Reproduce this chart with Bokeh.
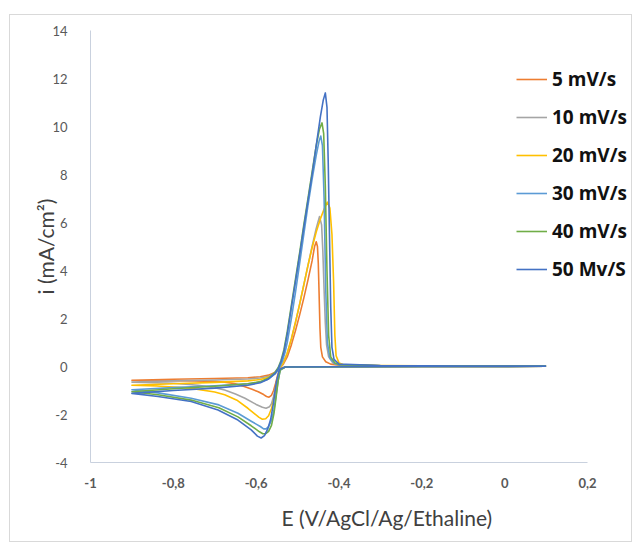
from bokeh.plotting import figure
from bokeh.models import Range1d, FixedTicker, Legend, LegendItem, Title, CustomJSTickFormatter
from bokeh.embed import file_html
from bokeh.resources import INLINE

# ---------------- data ----------------
SERIES_NAMES = ["5 mV/s", "10 mV/s", "20 mV/s", "30 mV/s", "40 mV/s", "50 Mv/S"]
SERIES_COLORS = ["#ED7D31", "#A5A5A5", "#FFC000", "#5B9BD5", "#70AD47", "#4472C4"]

# 5 mV/s
E5_fwd = [0.1, -0.2, -0.4, -0.53, -0.542, -0.548, -0.553, -0.558, -0.563, -0.569, -0.575, -0.582,
          -0.595, -0.61, -0.627, -0.65, -0.676, -0.7, -0.75, -0.8, -0.85, -0.9]
I5_fwd = [0.01, 0.0, -0.01, -0.02, -0.1, -0.35, -0.7, -1.0, -1.2, -1.28, -1.25, -1.17,
          -1.05, -0.95, -0.84, -0.72, -0.65, -0.62, -0.6, -0.59, -0.58, -0.57]
E5_rev = [-0.9, -0.85, -0.8, -0.7, -0.62, -0.59, -0.57, -0.555, -0.545, -0.535, -0.525, -0.515,
          -0.505, -0.495, -0.485, -0.475, -0.465, -0.459, -0.455, -0.452, -0.45, -0.448, -0.446,
          -0.444, -0.44, -0.432, -0.42, -0.4, -0.3, -0.1, 0.1]
I5_rev = [-0.57, -0.55, -0.53, -0.5, -0.47, -0.43, -0.36, -0.25, -0.12, 0.08, 0.4, 0.9,
          1.5, 2.15, 2.85, 3.6, 4.4, 5.0, 5.2, 5.0, 4.3, 3.0, 1.6,
          0.8, 0.4, 0.2, 0.1, 0.05, 0.03, 0.02, 0.02]

# 10 mV/s
E10_fwd = [0.1, -0.2, -0.4, -0.53, -0.542, -0.548, -0.553, -0.558, -0.563, -0.568, -0.576, -0.585,
           -0.6, -0.627, -0.65, -0.676, -0.7, -0.74, -0.8, -0.85, -0.9]
I10_fwd = [0.01, 0.0, -0.01, -0.02, -0.1, -0.45, -0.85, -1.25, -1.55, -1.68, -1.74, -1.7,
           -1.58, -1.32, -1.15, -0.98, -0.88, -0.78, -0.7, -0.67, -0.65]
E10_rev = [-0.9, -0.8, -0.7, -0.62, -0.59, -0.57, -0.555, -0.545, -0.535, -0.525, -0.515, -0.505,
           -0.495, -0.485, -0.475, -0.465, -0.455, -0.447, -0.442, -0.439, -0.436, -0.433, -0.43,
           -0.425, -0.415, -0.4, -0.3, -0.1, 0.1]
I10_rev = [-0.65, -0.6, -0.56, -0.52, -0.48, -0.41, -0.28, -0.12, 0.12, 0.55, 1.15, 1.85,
           2.6, 3.4, 4.2, 5.0, 5.75, 6.25, 5.9, 4.8, 3.2, 1.8, 0.9,
           0.4, 0.15, 0.07, 0.03, 0.02, 0.02]

# 20 mV/s
E20_fwd = [0.1, -0.2, -0.4, -0.53, -0.542, -0.547, -0.552, -0.557, -0.563, -0.57, -0.577, -0.585,
           -0.593, -0.605, -0.62, -0.645, -0.676, -0.7, -0.76, -0.84, -0.9]
I20_fwd = [0.01, 0.0, -0.01, -0.02, -0.12, -0.45, -0.9, -1.35, -1.75, -2.05, -2.18, -2.2,
           -2.12, -1.95, -1.74, -1.42, -1.18, -1.06, -0.9, -0.81, -0.78]
E20_rev = [-0.9, -0.8, -0.7, -0.62, -0.59, -0.57, -0.555, -0.545, -0.535, -0.525, -0.515, -0.505,
           -0.495, -0.485, -0.475, -0.465, -0.455, -0.445, -0.435, -0.428, -0.422, -0.417, -0.413,
           -0.41, -0.407, -0.4, -0.39, -0.3, -0.1, 0.1]
I20_rev = [-0.78, -0.72, -0.66, -0.6, -0.54, -0.45, -0.3, -0.12, 0.13, 0.55, 1.15, 1.85,
           2.6, 3.4, 4.2, 4.95, 5.6, 6.15, 6.6, 6.85, 6.6, 5.5, 3.5,
           1.3, 0.45, 0.15, 0.08, 0.04, 0.02, 0.02]

# 30 mV/s
E30_fwd = [0.1, -0.2, -0.4, -0.53, -0.542, -0.547, -0.552, -0.557, -0.563, -0.57, -0.576, -0.582,
           -0.59, -0.6, -0.612, -0.644, -0.69, -0.757, -0.837, -0.9]
I30_fwd = [0.01, 0.0, -0.01, -0.02, -0.15, -0.6, -1.2, -1.8, -2.25, -2.5, -2.6, -2.6,
           -2.5, -2.4, -2.28, -1.95, -1.6, -1.32, -1.1, -0.97]
E30_rev = [-0.9, -0.8, -0.7, -0.62, -0.59, -0.57, -0.555, -0.545, -0.537, -0.53, -0.525, -0.515,
           -0.505, -0.495, -0.485, -0.475, -0.465, -0.455, -0.448, -0.444, -0.44, -0.436, -0.432,
           -0.428, -0.422, -0.41, -0.4, -0.3, -0.1, 0.1]
I30_rev = [-0.97, -0.88, -0.8, -0.72, -0.65, -0.52, -0.32, -0.1, 0.2, 0.6, 1.0, 2.0,
           3.1, 4.3, 5.5, 6.7, 7.8, 8.8, 9.4, 9.6, 9.2, 7.0, 3.2,
           1.0, 0.35, 0.12, 0.07, 0.03, 0.02, 0.02]

# 40 mV/s
E40_fwd = [0.1, -0.2, -0.4, -0.53, -0.542, -0.547, -0.552, -0.557, -0.563, -0.57, -0.577, -0.584,
           -0.592, -0.6, -0.612, -0.644, -0.69, -0.757, -0.837, -0.9]
I40_fwd = [0.01, 0.0, -0.01, -0.02, -0.15, -0.6, -1.3, -1.95, -2.45, -2.7, -2.8, -2.8,
           -2.72, -2.62, -2.47, -2.1, -1.72, -1.4, -1.18, -1.05]
E40_rev = [-0.9, -0.8, -0.7, -0.62, -0.59, -0.57, -0.555, -0.547, -0.54, -0.533, -0.525, -0.515,
           -0.505, -0.495, -0.485, -0.475, -0.465, -0.455, -0.447, -0.441, -0.437, -0.433, -0.429,
           -0.425, -0.42, -0.41, -0.4, -0.3, -0.1, 0.1]
I40_rev = [-1.05, -0.93, -0.82, -0.72, -0.63, -0.48, -0.25, -0.05, 0.25, 0.7, 1.45, 2.55,
           3.65, 4.75, 5.9, 7.0, 8.1, 9.2, 9.9, 10.15, 9.7, 7.5, 4.0,
           1.3, 0.4, 0.15, 0.08, 0.03, 0.02, 0.02]

# 50 mV/s
E50_fwd = [0.1, -0.2, -0.4, -0.53, -0.542, -0.545, -0.551, -0.555, -0.559, -0.565, -0.572, -0.58,
           -0.588, -0.597, -0.612, -0.644, -0.692, -0.757, -0.837, -0.9]
I50_fwd = [0.01, 0.0, -0.01, -0.02, -0.1, -0.2, -0.63, -1.1, -1.6, -2.2, -2.6, -2.88,
           -2.98, -2.9, -2.64, -2.23, -1.81, -1.46, -1.25, -1.12]
E50_rev = [-0.9, -0.8, -0.7, -0.62, -0.59, -0.57, -0.555, -0.547, -0.54, -0.533, -0.525, -0.515,
           -0.505, -0.495, -0.485, -0.475, -0.465, -0.455, -0.445, -0.438, -0.433, -0.429, -0.426,
           -0.423, -0.42, -0.417, -0.412, -0.4, -0.3, -0.1, 0.1]
I50_rev = [-1.12, -1.0, -0.9, -0.78, -0.68, -0.52, -0.3, -0.1, 0.2, 0.6, 1.35, 2.45,
           3.55, 4.65, 5.8, 6.9, 8.0, 9.2, 10.4, 11.1, 11.4, 10.8, 8.5,
           5.5, 2.5, 0.8, 0.3, 0.1, 0.04, 0.02, 0.02]

X_TICKS = [-1.0, -0.8, -0.6, -0.4, -0.2, 0.0, 0.2]
X_LABELS = ["-1", "-0,8", "-0,6", "-0,4", "-0,2", "0", "0,2"]
Y_TICKS = [-4, -2, 0, 2, 4, 6, 8, 10, 12, 14]
Y_LABELS = ["-4", "-2", "0", "2", "4", "6", "8", "10", "12", "14"]
X_AXIS_MIN, X_AXIS_MAX = -1.0, 0.2
Y_AXIS_MIN, Y_AXIS_MAX = -4, 14

SERIES_E = [E5_fwd + E5_rev, E10_fwd + E10_rev, E20_fwd + E20_rev,
            E30_fwd + E30_rev, E40_fwd + E40_rev, E50_fwd + E50_rev]
SERIES_I = [I5_fwd + I5_rev, I10_fwd + I10_rev, I20_fwd + I20_rev,
            I30_fwd + I30_rev, I40_fwd + I40_rev, I50_fwd + I50_rev]

# ---------------- layout ----------------
FONT = "Lato"
TICK_COLOR = "#595959"
AXIS_LINE = "#C9D1DE"

AXIS_PX = 497          # pixels spanned by the x axis (-1 .. 0.2)
FRAME_W = 539          # frame extends further right so the legend is not clipped
FRAME_H = 432
x_end = X_AXIS_MIN + (X_AXIS_MAX - X_AXIS_MIN) * FRAME_W / AXIS_PX

p = figure(frame_width=FRAME_W, frame_height=FRAME_H,
           x_range=Range1d(X_AXIS_MIN, x_end), y_range=Range1d(Y_AXIS_MIN, Y_AXIS_MAX),
           output_backend="svg", toolbar_location=None,
           min_border_left=80, min_border_top=15, min_border_right=2, min_border_bottom=69)
p.margin = (14, 0, 0, 9)
p.styles = {"border": "1px solid #D9D9D9"}
p.background_fill_color = "white"
p.border_fill_color = "white"
p.outline_line_color = None
p.xgrid.visible = False
p.ygrid.visible = False

def make_formatter(tvals, tlabels):
    return CustomJSTickFormatter(args=dict(tick_vals=tvals, tick_labels=tlabels), code="""
        for (let k = 0; k < tick_vals.length; k++) {
            if (Math.abs(tick_vals[k] - tick) < 1e-9) return tick_labels[k];
        }
        return '';
    """)

for ax in (p.xaxis[0], p.yaxis[0]):
    ax.axis_line_color = AXIS_LINE
    ax.axis_line_width = 1
    ax.major_tick_line_color = None
    ax.minor_tick_line_color = None
    ax.major_tick_out = 0
    ax.major_tick_in = 0
    ax.minor_tick_out = 0
    ax.minor_tick_in = 0
    ax.major_label_text_font = FONT
    ax.major_label_text_color = TICK_COLOR
    ax.major_label_text_font_size = "13px"

p.xaxis.bounds = (X_AXIS_MIN, X_AXIS_MAX)
p.xaxis.ticker = FixedTicker(ticks=X_TICKS)
p.xaxis.formatter = make_formatter(X_TICKS, X_LABELS)
p.xaxis.major_label_text_font_style = "bold"
p.xaxis.major_label_standoff = 15

p.yaxis.ticker = FixedTicker(ticks=Y_TICKS)
p.yaxis.formatter = make_formatter(Y_TICKS, Y_LABELS)
p.yaxis.major_label_standoff = 23
p.yaxis.axis_label = "i (mA/cm²)"
p.yaxis.axis_label_text_font = FONT
p.yaxis.axis_label_text_font_style = "normal"
p.yaxis.axis_label_text_font_size = "21px"
p.yaxis.axis_label_text_color = "#404040"
p.yaxis.axis_label_standoff = -9

items = []
for name, color, xs, ys in zip(SERIES_NAMES, SERIES_COLORS, SERIES_E, SERIES_I):
    r = p.line(xs, ys, line_color=color, line_width=1.6, line_join="round")
    items.append(LegendItem(label=name, renderers=[r]))

legend = Legend(items=items, location=(426, 180))
legend.background_fill_alpha = 0
legend.border_line_color = None
legend.padding = 0
legend.margin = 0
legend.spacing = 12
legend.glyph_width = 31
legend.glyph_height = 20
legend.label_height = 20
legend.label_standoff = 5
legend.label_text_font = "Open Sans"
legend.label_text_font_style = "bold"
legend.label_text_font_size = "19px"
legend.label_text_color = "#111111"
p.add_layout(legend)

xtitle = Title(text="E (V/AgCl/Ag/Ethaline)", align="left", offset=191,
               text_font=FONT, text_font_size="21px", text_color="#404040",
               text_font_style="normal", standoff=24)
p.add_layout(xtitle, "below")

open("out.html", "w").write(file_html(p, INLINE))
